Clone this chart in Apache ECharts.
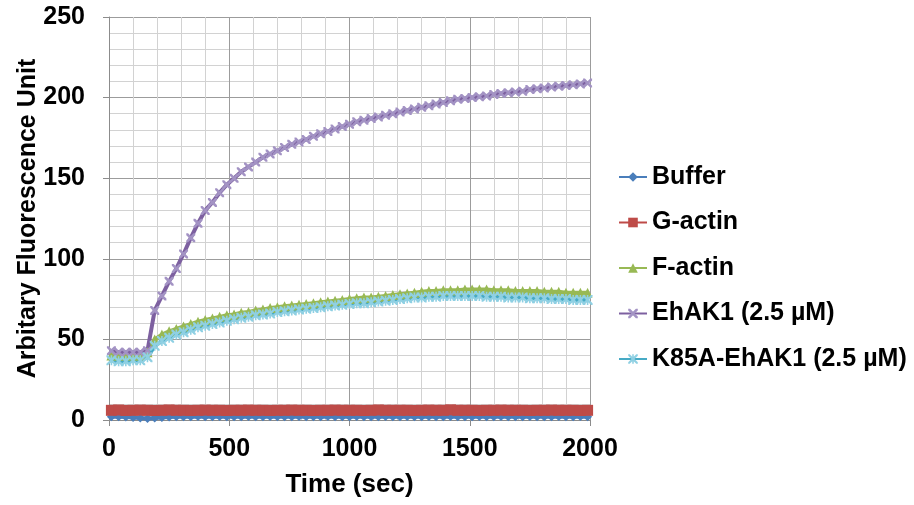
<!DOCTYPE html>
<html>
<head>
<meta charset="utf-8">
<title>Fluorescence</title>
<script src="https://cdn.jsdelivr.net/npm/echarts@6/dist/echarts.min.js"></script>
<style>
  html, body { margin: 0; padding: 0; background: #fff; }
  #main { width: 914px; height: 505px; }
</style>
</head>
<body>
<div id="main"></div>
<script>
// time points (sec)
var timeSec = [10,40,70,100,130,160,190,220,250,280,
  310,340,370,400,430,460,490,520,550,580,
  610,640,670,700,730,760,790,820,850,880,
  910,940,970,1000,1030,1060,1090,1120,1150,1180,
  1210,1240,1270,1300,1330,1360,1390,1420,1450,1480,
  1510,1540,1570,1600,1630,1660,1690,1720,1750,1780,
  1810,1840,1870,1900,1930,1960,1990];

var buffer = [2,2,1.8,1.6,1.2,1,1.3,1.6,1.8,2,
  2,2,2.1,2,2,2.1,2,2,2,2.1,
  2,2,2.1,2,2,2,2.1,2,2,2,
  2.1,2,2,2,2.1,2,2,2,2.1,2,
  2,2.2,2,2,2.1,2,2,2.2,2,2,
  2,2.1,2,2,2.1,2,2,2,2.1,2,
  2,2,2.1,2,2,2.1,2];

var gActin = [6,6.2,5.9,6,6.1,6,5.9,6,6.2,6,
  6,5.9,6,6.1,6,6,5.9,6,6,6.1,
  6,6,5.9,6,6,6.1,6,6,5.9,6,
  6,6.1,6,6,6,5.9,6,6.2,6,6,
  6,6,5.9,6,6.1,6,6,6.3,6,6,
  6,5.9,6,6,6.1,6,6,6,5.9,6,
  6,6.1,6,6,6,5.9,6];

var fActin = [40,40,40,40,40,42,50,53,55,56.5,
  58,59.5,61,62,63,64,65,65.5,66.5,67,
  68,68.5,69.5,70,70.5,71,71.5,72,72.5,73,
  73.5,74,74.5,75,75.5,76,76,76.5,77,77.5,
  78,78.5,79,79.5,80,80,80.5,80.5,80.5,81,
  81,81,81,80.5,80.5,80.5,80,80,80,80,
  79.5,79.5,79.5,79,79,79,79];

var ehak1 = [43,42,42,42,42,43,68,77,86,94,
  103,113,122,130,135,141,146,150,154,157,
  160,163,165,167,169,171,172.5,174,176,177.5,
  179,180.5,182,183.5,185,186,187,188,189,190,
  191,192,193,194,195,196,197,198,199,199.5,
  200,200.5,201,202,202.5,203,203.5,204,205,205.5,
  206,206.5,207,207.5,208,208.5,209];

var k85a = [37,36.5,36.5,37,37,39,46,49,51,53,
  54.5,56,57.5,58.5,59.5,60.5,61.5,62.5,63.5,64,
  65,65.5,66,67,67.5,68,68.5,69,69.5,70,
  70.5,71,71.5,72,72.5,72.5,73,73.5,74,74.5,
  75,75.5,76,76,76.5,76.5,77,77,77,77,
  77,77,76.5,76.5,76.5,76,76,76,75.5,75.5,
  75.5,75,75,75,74.5,74.5,74.5];

var seriesNames = ["Buffer", "G-actin", "F-actin", "EhAK1 (2.5 µM)", "K85A-EhAK1 (2.5 µM)"];

// excel style marker shapes
var crossPath = "path://M0,0L2,0L10,8L10,10L8,10L0,2Z M10,0L10,2L2,10L0,10L0,8L8,0Z";
var starPath = "path://M0,0L1.6,0L10,8.4L10,10L8.4,10L0,1.6Z M10,0L10,1.6L1.6,10L0,10L0,8.4L8.4,0Z M4.2,0L5.8,0L5.8,10L4.2,10Z";

var font = "'Liberation Sans', Arial, sans-serif";

function pairs(arr) {
  return timeSec.map(function (t, i) { return [t, arr[i]]; });
}

function makeSeries(name, arr, lineColor, markColor, symbol, size) {
  return {
    name: name,
    type: "line",
    data: pairs(arr),
    symbol: symbol,
    symbolSize: size,
    showAllSymbol: true,
    lineStyle: { color: lineColor, width: 4 },
    itemStyle: { color: markColor },
    animation: false
  };
}

var myChart = echarts.init(document.getElementById("main"));

var option = {
  backgroundColor: "#fff",
  grid: { left: 109, right: 324, top: 17, bottom: 85 },
  legend: {
    orient: "vertical",
    left: 613,
    top: 159,
    itemWidth: 28,
    itemHeight: 12,
    itemGap: 19.5,
    data: seriesNames,
    textStyle: { fontFamily: font, fontSize: 25, fontWeight: "bold", color: "#000", lineHeight: 26 }
  },
  xAxis: {
    type: "value",
    min: 0,
    max: 2000,
    interval: 500,
    name: "Time (sec)",
    nameLocation: "middle",
    nameGap: 52,
    nameMoveOverlap: false,
    nameTextStyle: { fontFamily: font, fontSize: 26, fontWeight: "bold", color: "#000" },
    axisLine: { lineStyle: { color: "#8c8c8c", width: 1 } },
    axisTick: { show: true, length: 6, lineStyle: { color: "#8c8c8c" } },
    axisLabel: {
      margin: 17, fontFamily: font, fontSize: 25, fontWeight: "bold", color: "#000",
      formatter: function (v) { return String(v); }
    },
    splitLine: { show: true, lineStyle: { color: "#9c9c9c", width: 1 } },
    minorTick: { show: false, splitNumber: 5 },
    minorSplitLine: { show: true, lineStyle: { color: "#d2d2d2", width: 1 } }
  },
  yAxis: {
    type: "value",
    min: 0,
    max: 250,
    interval: 50,
    name: "Arbitary Fluorescence Unit",
    nameLocation: "middle",
    nameGap: 68,
    nameMoveOverlap: false,
    nameTextStyle: { fontFamily: font, fontSize: 25, fontWeight: "bold", color: "#000" },
    axisLine: { show: true, lineStyle: { color: "#8c8c8c", width: 1 } },
    axisTick: { show: true, length: 6, lineStyle: { color: "#8c8c8c" } },
    axisLabel: { margin: 24, fontFamily: font, fontSize: 25, fontWeight: "bold", color: "#000" },
    splitLine: { show: true, lineStyle: { color: "#9c9c9c", width: 1 } },
    minorTick: { show: false, splitNumber: 5 },
    minorSplitLine: { show: true, lineStyle: { color: "#d2d2d2", width: 1 } }
  },
  series: [
    makeSeries(seriesNames[0], buffer, "#4A7EBB", "#4A7EBB", "diamond", 9),
    makeSeries(seriesNames[1], gActin, "#BE4B48", "#BE4B48", "rect", 11),
    makeSeries(seriesNames[2], fActin, "#98B954", "#98B954", "triangle", 10),
    makeSeries(seriesNames[3], ehak1, "#7D60A0", "#A393C4", crossPath, 9),
    makeSeries(seriesNames[4], k85a, "#46AAC5", "#8FD0E3", starPath, 10)
  ]
};

myChart.setOption(option);
</script>
</body>
</html>
